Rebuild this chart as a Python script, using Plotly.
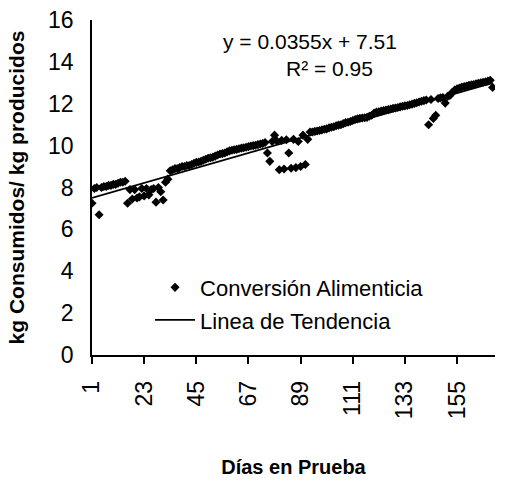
import plotly.graph_objects as go

days = list(range(1, 171))
conversion = [
    # 1-15
    7.25, 7.95, 8.0, 6.7, 8.0, 8.05, 8.05, 8.1, 8.1, 8.15, 8.15, 8.2, 8.25, 8.25, 8.3,
    # 16-33
    7.25, 7.9, 7.45, 7.9, 7.5, 7.55, 7.95, 7.6, 7.95, 7.65, 7.9, 7.95, 7.3, 8.0, 7.8, 7.4, 8.25, 8.4,
    # 34-44
    8.8, 8.85, 8.9, 8.9, 8.95, 9.0, 9.0, 9.05, 9.05, 9.1, 9.15,
    # 45-60
    9.2, 9.22, 9.25, 9.3, 9.35, 9.4, 9.42, 9.45, 9.5, 9.55, 9.6, 9.62, 9.65, 9.7, 9.75, 9.78,
    # 61-74
    9.8, 9.82, 9.85, 9.88, 9.9, 9.92, 9.95, 9.98, 10.0, 10.02, 10.05, 10.08, 10.1, 10.15,
    # 75-93
    9.65, 9.25, 10.2, 10.5, 10.22, 8.85, 10.25, 8.88, 10.28, 9.65, 8.92, 10.3, 8.95, 10.2, 9.0,
    10.5, 9.1, 10.3, 10.65,
    # 94-117
    10.65, 10.68, 10.7, 10.72, 10.75, 10.78, 10.8, 10.85, 10.88, 10.9, 10.95, 10.98, 11.0, 11.05,
    11.1, 11.12, 11.15, 11.2, 11.25, 11.28, 11.3, 11.32, 11.33, 11.35,
    # 118-139
    11.4, 11.45, 11.55, 11.6, 11.62, 11.65, 11.68, 11.7, 11.72, 11.75, 11.78, 11.8, 11.82, 11.85,
    11.88, 11.9, 11.92, 11.95, 11.98, 12.02, 12.05, 12.08,
    # 140-170
    12.12, 12.15, 12.18, 11.0, 12.2, 11.3, 11.45, 12.25, 12.28, 12.3, 12.03, 12.35, 12.4, 12.55,
    12.65, 12.72, 12.75, 12.8, 12.82, 12.85, 12.88, 12.9, 12.92, 12.95, 12.98, 13.0, 13.03, 13.05,
    13.08, 13.12, 12.78,
]
assert len(conversion) == len(days), len(conversion)

trend_x = [1, 170]
trend_y = [7.5, 13.0]

x_ticks = [1, 23, 45, 67, 89, 111, 133, 155]
y_ticks = [0, 2, 4, 6, 8, 10, 12, 14, 16]

FONT = "Liberation Sans, Arial, sans-serif"

fig = go.Figure()
fig.add_trace(go.Scatter(
    x=days, y=conversion, mode="markers", name="Conversión Alimenticia",
    marker=dict(symbol="diamond", size=7, color="black"),
    legendgroup="a",
))
fig.add_trace(go.Scatter(
    x=trend_x, y=trend_y, mode="lines", name="Linea de Tendencia",
    line=dict(color="black", width=1.8),
    legendgroup="b",
))

fig.add_annotation(x=0.541, y=0.975, xref="paper", yref="paper",
                   text="y = 0.0355x + 7.51", showarrow=False,
                   font=dict(family=FONT, size=21, color="black"))
fig.add_annotation(x=0.59, y=0.895, xref="paper", yref="paper",
                   text="R² = 0.95", showarrow=False,
                   font=dict(family=FONT, size=21, color="black"))

fig.update_layout(
    width=505, height=483,
    margin=dict(l=92, r=10, t=20, b=128),
    paper_bgcolor="white", plot_bgcolor="white",
    font=dict(family=FONT, color="black"),
    showlegend=True,
    legend=dict(x=0.144, y=0.264, xanchor="left", yanchor="top",
                bgcolor="rgba(0,0,0,0)", font=dict(size=22, family=FONT),
                traceorder="grouped", tracegroupgap=1, itemwidth=40),
    xaxis=dict(
        range=[1, 171], tickmode="array", tickvals=x_ticks,
        ticktext=[str(t) for t in x_ticks], tickangle=-90,
        showline=True, linecolor="black", linewidth=1.5,
        ticks="outside", ticklen=7, tickcolor="black", tickwidth=1.5,
        showgrid=False, zeroline=False, ticklabelstandoff=8, automargin=False,
        tickfont=dict(size=23, family=FONT),
        title=dict(text="<b>Días en Prueba</b>", font=dict(size=20, family=FONT), standoff=42),
    ),
    yaxis=dict(
        range=[0, 16], tickmode="array", tickvals=y_ticks,
        showline=True, linecolor="black", linewidth=1.5,
        ticks="", showgrid=False, zeroline=False, automargin=False,
        tickfont=dict(size=23, family=FONT), ticklabelstandoff=12,
        title=dict(text="<b>kg Consumidos/ kg producidos</b>", font=dict(size=21, family=FONT), standoff=18),
    ),
)

fig.write_html("out.html")
